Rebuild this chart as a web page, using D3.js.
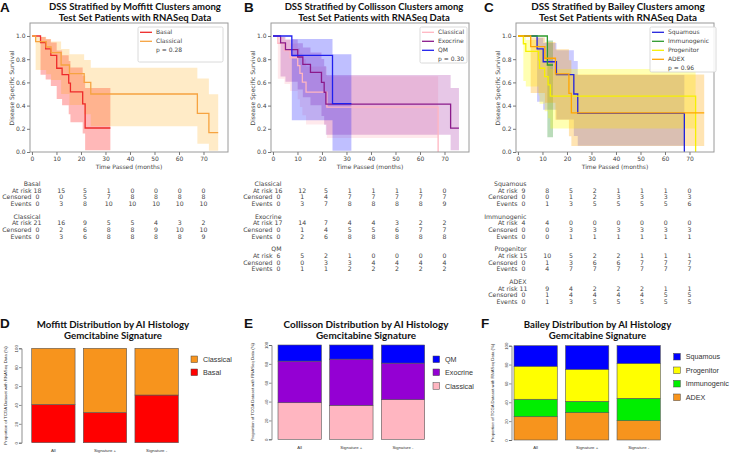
<!DOCTYPE html>
<html><head><meta charset="utf-8">
<script src="https://cdn.jsdelivr.net/npm/d3@7"></script>
<style>body{margin:0;background:#fff}svg{display:block}</style>
</head><body>
<svg id="c" width="732" height="457"></svg>
<script>
// ---------------- DATA ----------------
const kmTicksX = [0,10,20,30,40,50,60,70];
const kmTicksY = [0,0.2,0.4,0.6,0.8,1.0];
const riskTimes = [0,10,20,30,40,50,60,70];
const riskRowLabels = ["At risk","Censored","Events"];

// Panel A: Moffitt  ([time, survival]) and ([time, lower, upper])
const moffittBasalSurv = [[0,1],[3.5,.944],[5.6,.889],[7.7,.833],[10.1,.722],[12.3,.667],[15.0,.593],[15.7,.519],[20.7,.415],[21.7,.207],[32,.207]];
const moffittBasalCI = [[0,1,1],[3.5,.666,.992],[5.6,.624,.971],[7.7,.568,.943],[10.1,.456,.874],[12.3,.403,.834],[15.0,.325,.784],[15.7,.257,.728],[20.7,.159,.657],[21.7,.016,.551],[32,.016,.551]];
const moffittClassicalSurv = [[0,1],[1.5,.952],[5.8,.905],[7.8,.857],[11.9,.75],[15.3,.675],[21.3,.6],[24,.5],[67.5,.333],[72.2,.167],[76,.167]];
const moffittClassicalCI = [[0,1,1],[1.5,.707,.993],[5.8,.670,.975],[7.8,.620,.952],[11.9,.499,.888],[15.3,.405,.843],[21.3,.326,.792],[24,.222,.727],[67.5,.071,.633],[72.2,.010,.497],[76,.010,.497]];
const moffittBasalRisk = [[18,15,5,1,0,0,0,0],[0,0,5,7,8,8,8,8],[0,3,8,10,10,10,10,10]];
const moffittClassicalRisk = [[21,16,9,5,5,4,3,2],[0,2,6,8,8,9,10,10],[0,3,6,8,8,8,8,9]];

// Panel B: Collisson
const collissonClassicalSurv = [[0,1],[2.0,.9375],[4.7,.875],[7.0,.8125],[10.1,.745],[11.0,.677],[12.0,.602],[13.5,.516],[22.0,.387],[67.4,0]];
const collissonClassicalCI = [[0,1,1],[2.0,.632,.991],[4.7,.586,.967],[7.0,.525,.935],[10.1,.454,.896],[11.0,.388,.852],[12.0,.316,.799],[13.5,.237,.738],[22.0,.120,.654],[67.4,.120,.654]];
const collissonExocrineSurv = [[0,1],[3.1,.941],[5.1,.882],[10.1,.819],[12.2,.756],[15.3,.687],[19.8,.601],[20.9,.515],[21.6,.412],[72.5,.206],[75.9,.206]];
const collissonExocrineCI = [[0,1,1],[3.1,.650,.991],[5.1,.606,.969],[10.1,.538,.938],[12.2,.473,.901],[15.3,.402,.857],[19.8,.310,.801],[20.9,.234,.739],[21.6,.148,.663],[72.5,.015,.552],[75.9,.015,.552]];
const collissonQMSurv = [[0,1],[7.7,.833],[24.3,.417],[32,.417]];
const collissonQMCI = [[0,1,1],[7.7,.273,.975],[24.3,.011,.843],[32,.011,.843]];
const collissonClassicalRisk = [[16,12,5,1,1,1,1,0],[0,1,4,7,7,7,7,7],[0,3,7,8,8,8,8,9]];
const collissonExocrineRisk = [[17,14,7,4,4,3,2,2],[0,1,4,5,5,6,7,7],[0,2,6,8,8,8,8,8]];
const collissonQMRisk = [[6,5,2,1,0,0,0,0],[0,0,3,3,4,4,4,4],[0,1,1,2,2,2,2,2]];

// Panel C: Bailey
const baileySquamousSurv = [[0,1],[7.8,.889],[10.3,.778],[15.7,.667],[22.8,.5],[24.4,.333],[67.9,0]];
const baileySquamousCI = [[0,1,1],[7.8,.433,.984],[10.3,.365,.939],[15.7,.281,.878],[22.8,.137,.785],[24.4,.053,.664],[67.9,.053,.664]];
const baileyImmunoSurv = [[0,1],[12.0,.75],[14.3,.75]];
const baileyImmunoCI = [[0,1,1],[12.0,.128,.961],[14.3,.128,.961]];
const baileyProgenitorSurv = [[0,1],[2.2,.933],[3.2,.867],[8.4,.794],[8.8,.722],[10.9,.65],[12.3,.578],[13.2,.481],[72.5,0]];
const baileyProgenitorCI = [[0,1,1],[2.2,.613,.990],[3.2,.564,.965],[8.4,.488,.929],[8.8,.417,.886],[10.9,.351,.837],[12.3,.290,.784],[13.2,.202,.715],[72.5,.202,.715]];
const baileyADEXSurv = [[0,1],[5.2,.909],[11.0,.808],[15.3,.673],[20.8,.505],[21.8,.337],[76,.337]];
const baileyADEXCI = [[0,1,1],[5.2,.508,.987],[11.0,.424,.948],[15.3,.278,.885],[20.8,.136,.791],[21.8,.052,.669],[76,.052,.669]];
const baileySquamousRisk = [[9,8,5,2,1,1,1,0],[0,0,1,2,3,3,3,3],[0,1,3,5,5,5,5,6]];
const baileyImmunoRisk = [[4,4,0,0,0,0,0,0],[0,0,3,3,3,3,3,3],[0,0,1,1,1,1,1,1]];
const baileyProgenitorRisk = [[15,10,5,2,2,1,1,1],[0,1,3,6,6,7,7,7],[0,4,7,7,7,7,7,7]];
const baileyADEXRisk = [[11,9,4,2,2,2,1,1],[0,1,4,4,4,4,5,5],[0,1,3,5,5,5,5,5]];

// Bar panels (percent)
const barCategories = ["All","Signature +","Signature -"];
const barTicksY = [0,20,40,60,80,100];
const moffittBasalPct = [40.5,32,50.5];
const moffittClassicalPct = [59.5,68,49.5];
const collissonClassicalPct = [38.8,36,42];
const collissonExocrinePct = [44.1,49,38.8];
const collissonQMPct = [17.1,15,19.2];
const baileyADEXPct = [24.7,29,20.5];
const baileyImmunoPct = [18.5,12,23.7];
const baileyProgenitorPct = [35,34,37.1];
const baileySquamousPct = [21.8,25,18.8];

// ---------------- DRAW ----------------
const svg = d3.select("#c");
svg.append("rect").attr("width",732).attr("height",457).attr("fill","#fff");
const MPL = "DejaVu Sans", RF = "Liberation Sans, Arial, sans-serif", TF = "Lato, 'Open Sans', sans-serif";

function fitTitle(g, lines, cx, y0, dy, target, size0){
  const t1 = g.append("text").attr("x",cx).attr("y",y0).attr("text-anchor","middle")
    .attr("font-family",TF).attr("font-weight","bold").attr("font-size",size0).attr("fill","#111").text(lines[0]);
  const w = t1.node().getComputedTextLength();
  const s = size0*target/w;
  t1.attr("font-size",s);
  g.append("text").attr("x",cx).attr("y",y0+dy).attr("text-anchor","middle")
    .attr("font-family",TF).attr("font-weight","bold").attr("font-size",s).attr("fill","#111").text(lines[1]);
}

function letter(txt,x,y){
  svg.append("text").attr("x",x).attr("y",y).attr("font-family",RF).attr("font-weight","bold")
    .attr("font-size",13.5).attr("fill","#111").text(txt);
}

function drawKM(cfg){
  const g = svg.append("g").attr("transform",`translate(${cfg.ox},0)`);
  const x = d3.scaleLinear().domain([-0.8,80]).range([30,228]);
  const y = d3.scaleLinear().domain([0,1.112]).range([152,23]);
  const area = d3.area().curve(d3.curveStepAfter).x(d=>x(d[0])).y0(d=>y(d[1])).y1(d=>y(d[2]));
  const line = d3.line().curve(d3.curveStepAfter).x(d=>x(d[0])).y(d=>y(d[1]));
  cfg.series.forEach(s=>{
    g.append("path").attr("d",area(s.ci)).attr("fill",s.band).attr("fill-opacity",s.op);
  });
  cfg.series.forEach(s=>{
    g.append("path").attr("d",line(s.surv)).attr("fill","none").attr("stroke",s.color).attr("stroke-width",1.3);
  });
  g.append("rect").attr("x",30).attr("y",23).attr("width",198).attr("height",129)
    .attr("fill","none").attr("stroke","#9a9a9a").attr("stroke-width",1);
  const xa = g.append("g").attr("transform","translate(0,152)")
    .call(d3.axisBottom(x).tickValues(kmTicksX).tickSize(3).tickPadding(1.5).tickFormat(d3.format("d")));
  const ya = g.append("g").attr("transform","translate(30,0)")
    .call(d3.axisLeft(y).tickValues(kmTicksY).tickSize(3).tickPadding(1.5).tickFormat(d3.format(".1f")));
  [xa,ya].forEach(a=>{
    a.select(".domain").remove();
    a.selectAll("line").attr("stroke","#777");
    a.selectAll("text").attr("font-family",MPL).attr("font-size",6).attr("fill","#444");
  });
  g.append("text").attr("x",129).attr("y",169).attr("text-anchor","middle")
    .attr("font-family",MPL).attr("font-size",6).attr("fill","#444").text("Time Passed (months)");
  g.append("text").attr("transform","translate(14,88) rotate(-90)").attr("text-anchor","middle")
    .attr("font-family",MPL).attr("font-size",6).attr("fill","#444").text("Disease Specific Survival");
  fitTitle(g, cfg.title, cfg.tcx, 10.3, 10.9, cfg.tw, 11);
  const L = cfg.legend;
  g.append("rect").attr("x",L.x0).attr("y",27).attr("width",L.x1-L.x0).attr("height",L.y1-27)
    .attr("rx",1.5).attr("fill","#fff").attr("fill-opacity",0.85).attr("stroke","#d0d0d0").attr("stroke-width",0.8);
  cfg.series.forEach((s,i)=>{
    const yy = 32.3 + 9*i;
    g.append("line").attr("x1",L.x0+2).attr("x2",L.x0+14).attr("y1",yy).attr("y2",yy)
      .attr("stroke",s.color).attr("stroke-width",1.3);
    g.append("text").attr("x",L.x0+18).attr("y",yy+2.1).attr("font-family",MPL).attr("font-size",6)
      .attr("fill","#444").text(s.name);
  });
  g.append("text").attr("x",L.x0+18).attr("y",32.3+9*cfg.series.length+2.1).attr("font-family",MPL)
    .attr("font-size",6).attr("fill","#444").text(cfg.p);
  const tx = d3.scaleLinear().domain([0,70]).range([37.5,203.5]);
  cfg.series.forEach((s,gi)=>{
    const gy = 186 + 32.7*gi;
    g.append("text").attr("x",40.5).attr("y",gy).attr("text-anchor","end")
      .attr("font-family",MPL).attr("font-size",6.2).attr("fill","#444").text(s.name);
    riskRowLabels.forEach((lab,ri)=>{
      const ry = gy + 6.6*(ri+1);
      g.append("text").attr("x",31.5).attr("y",ry).attr("text-anchor","end")
        .attr("font-family",MPL).attr("font-size",6.2).attr("fill","#444").text(lab);
      s.risk[ri].forEach((v,ci)=>{
        g.append("text").attr("x",tx(riskTimes[ci])).attr("y",ry).attr("text-anchor","middle")
          .attr("font-family",MPL).attr("font-size",6.2).attr("fill","#444").text(v);
      });
    });
  });
}

drawKM({ox:0, title:["DSS Stratified by Moffitt Clusters among","Test Set Patients with RNASeq Data"], tcx:135, tw:172,
  p:"p = 0.28", legend:{x0:138,x1:223,y1:62},
  series:[
    {name:"Basal", color:"#ee2a2a", band:"#ff0000", op:0.28, surv:moffittBasalSurv, ci:moffittBasalCI, risk:moffittBasalRisk},
    {name:"Classical", color:"#f6a340", band:"#ffa500", op:0.22, surv:moffittClassicalSurv, ci:moffittClassicalCI, risk:moffittClassicalRisk}
  ]});
drawKM({ox:241, title:["DSS Stratified by Collisson Clusters among","Test Set Patients with RNASeq Data"], tcx:133, tw:179,
  p:"p = 0.30", legend:{x0:179,x1:226,y1:63},
  series:[
    {name:"Classical", color:"#ffb6c1", band:"#ffb6c1", op:0.3, surv:collissonClassicalSurv, ci:collissonClassicalCI, risk:collissonClassicalRisk},
    {name:"Exocrine", color:"#8b1a8b", band:"#a020a0", op:0.25, surv:collissonExocrineSurv, ci:collissonExocrineCI, risk:collissonExocrineRisk},
    {name:"QM", color:"#2020ee", band:"#0000ff", op:0.25, surv:collissonQMSurv, ci:collissonQMCI, risk:collissonQMRisk}
  ]});
drawKM({ox:486, title:["DSS Stratified by Bailey Clusters among","Test Set Patients with RNASeq Data"], tcx:132, tw:174,
  p:"p = 0.96", legend:{x0:164,x1:230,y1:72},
  series:[
    {name:"Squamous", color:"#2222dd", band:"#3030ff", op:0.25, surv:baileySquamousSurv, ci:baileySquamousCI, risk:baileySquamousRisk},
    {name:"Immunogenic", color:"#2e9a2e", band:"#1a8a1a", op:0.3, surv:baileyImmunoSurv, ci:baileyImmunoCI, risk:baileyImmunoRisk},
    {name:"Progenitor", color:"#f5f000", band:"#ffff00", op:0.3, surv:baileyProgenitorSurv, ci:baileyProgenitorCI, risk:baileyProgenitorRisk},
    {name:"ADEX", color:"#ffa500", band:"#ffa500", op:0.3, surv:baileyADEXSurv, ci:baileyADEXCI, risk:baileyADEXRisk}
  ]});
letter("A",0,12); letter("B",244,12); letter("C",484,12);

function drawBars(cfg){
  const g = svg.append("g");
  const x = d3.scaleBand().domain(barCategories).range(cfg.xr).paddingInner(0.16).paddingOuter(0);
  const y = d3.scaleLinear().domain([0,100]).range(cfg.yr);
  const rows = barCategories.map((c,i)=>{ const o={cat:c}; cfg.series.forEach(s=>o[s.name]=s.vals[i]); return o; });
  const stack = d3.stack().keys(cfg.series.map(s=>s.name))(rows);
  stack.forEach((layer,li)=>{
    g.selectAll(null).data(layer).enter().append("rect")
      .attr("x",d=>x(d.data.cat)).attr("width",x.bandwidth())
      .attr("y",d=>y(d[1])).attr("height",d=>y(d[0])-y(d[1]))
      .attr("fill",cfg.series[li].color).attr("stroke","#555").attr("stroke-width",0.6);
  });
  const ya = g.append("g").attr("transform",`translate(${cfg.ax},0)`)
    .call(d3.axisLeft(y).tickValues(barTicksY).tickSize(2.5).tickPadding(1));
  ya.select(".domain").attr("stroke","#444").attr("stroke-width",0.6);
  ya.selectAll("line").attr("stroke","#444").attr("stroke-width",0.6);
  ya.selectAll("text").attr("font-family",RF).attr("font-size",4.3).attr("fill","#333")
    .attr("text-anchor","middle").attr("dy",null).attr("x",0).attr("y",0)
    .attr("transform","translate(-4,0) rotate(-90)");
  g.append("text").attr("transform",`translate(${cfg.lx},${(cfg.yr[0]+cfg.yr[1])/2}) rotate(-90)`)
    .attr("text-anchor","middle").attr("font-family",RF).attr("font-size",4.3).attr("fill","#333")
    .text("Proportion of TCGA Dataset with RNASeq Data (%)");
  barCategories.forEach(c=>{
    g.append("text").attr("x",x(c)+x.bandwidth()/2).attr("y",cfg.yr[0]+9.3).attr("text-anchor","middle")
      .attr("font-family",RF).attr("font-size",4.3).attr("fill","#333").text(c);
  });
  fitTitle(g, cfg.title, cfg.tcx, 327.7, 11.3, cfg.tw, 11.5);
  cfg.series.slice().reverse().forEach((s,i)=>{
    const yy = cfg.legY[i];
    g.append("rect").attr("x",cfg.legX).attr("y",yy-3.3).attr("width",6.6).attr("height",6.6)
      .attr("fill",s.color).attr("stroke","#444").attr("stroke-width",0.5);
    g.append("text").attr("x",cfg.legX+12).attr("y",yy+2.5).attr("font-family",RF).attr("font-size",7.2)
      .attr("fill","#333").text(s.name);
  });
}

drawBars({xr:[31.7,178.3], yr:[442.7,348.3], ax:21.5, lx:7, tcx:113, tw:152.7,
  title:["Moffitt Distribution by AI Histology","Gemcitabine Signature"],
  legX:191, legY:[359.3,372.3],
  series:[{name:"Basal",color:"#ff0000",vals:moffittBasalPct},{name:"Classical",color:"#f7941d",vals:moffittClassicalPct}]});
drawBars({xr:[278,424.7], yr:[439.3,345], ax:271.5, lx:254, tcx:366, tw:165,
  title:["Collisson Distribution by AI Histology","Gemcitabine Signature"],
  legX:433, legY:[359.3,372.3,386],
  series:[{name:"Classical",color:"#ffb6c1",vals:collissonClassicalPct},{name:"Exocrine",color:"#9400d3",vals:collissonExocrinePct},{name:"QM",color:"#0000ff",vals:collissonQMPct}]});
drawBars({xr:[514,660.3], yr:[440,345.7], ax:511.5, lx:494, tcx:597.5, tw:147.7,
  title:["Bailey Distribution by AI Histology","Gemcitabine Signature"],
  legX:673.7, legY:[356.7,370.3,383.7,397.3],
  series:[{name:"ADEX",color:"#f7941d",vals:baileyADEXPct},{name:"Immunogenic",color:"#00ee00",vals:baileyImmunoPct},{name:"Progenitor",color:"#ffff00",vals:baileyProgenitorPct},{name:"Squamous",color:"#0000ff",vals:baileySquamousPct}]});
letter("D",0,328); letter("E",244,328); letter("F",481,328);
</script>
</body></html>
